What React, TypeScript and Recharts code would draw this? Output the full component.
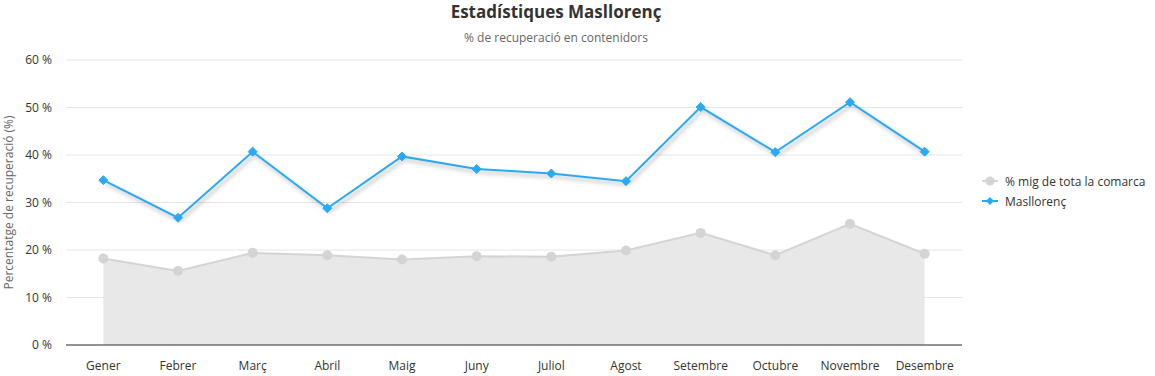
import React from 'react';
import { ComposedChart, Area, Line, XAxis, YAxis, CartesianGrid, Legend } from 'recharts';

const months = ['Gener', 'Febrer', 'Març', 'Abril', 'Maig', 'Juny', 'Juliol', 'Agost', 'Setembre', 'Octubre', 'Novembre', 'Desembre'];
const comarcaAvg = [18.2, 15.6, 19.4, 18.9, 18.0, 18.7, 18.6, 19.9, 23.6, 18.9, 25.5, 19.2];
const masllorenc = [34.7, 26.8, 40.7, 28.8, 39.7, 37.05, 36.1, 34.5, 50.1, 40.6, 51.1, 40.7];
const yTicks = [0, 10, 20, 30, 40, 50, 60];

const data = months.map((m, i) => ({ month: m, comarca: comarcaAvg[i], mas: masllorenc[i] }));

const FONT = "'Open Sans', 'Noto Sans', sans-serif";
const BLUE = '#2aaaf4';
const GRAY_LINE = '#d4d4d4';
const GRAY_FILL = '#e8e8e8';

const Diamond = (props: any) => {
  const { cx, cy } = props;
  if (cx == null || cy == null) return null;
  return <path d={`M${cx} ${cy - 4.5}L${cx + 4.5} ${cy}L${cx} ${cy + 4.5}L${cx - 4.5} ${cy}Z`} fill={BLUE} stroke={BLUE} strokeWidth={1} />;
};

const LegendContent = () => (
  <div style={{ fontFamily: FONT, fontSize: 12, color: '#333' }}>
    <div style={{ display: 'flex', alignItems: 'center', height: 20 }}>
      <svg width={20} height={12} style={{ marginRight: 5 }}>
        <line x1={2} y1={6} x2={18} y2={6} stroke={GRAY_LINE} strokeWidth={2} />
        <circle cx={10} cy={6} r={4.5} fill={GRAY_LINE} />
      </svg>
      <span>% mig de tota la comarca</span>
    </div>
    <div style={{ display: 'flex', alignItems: 'center', height: 20 }}>
      <svg width={20} height={12} style={{ marginRight: 5 }}>
        <line x1={2} y1={6} x2={18} y2={6} stroke={BLUE} strokeWidth={2} />
        <path d="M10 2L14 6L10 10L6 6Z" fill={BLUE} />
      </svg>
      <span>Masllorenç</span>
    </div>
  </div>
);

export default function App() {
  return (
    <div style={{ position: 'absolute', left: 0, top: 0, width: 1155, height: 376, background: '#fff', fontFamily: FONT }}>
      <style>{`.blue-line .recharts-line-curve { filter: drop-shadow(2px 3px 2px rgba(0,0,0,0.3)); }`}</style>
      <div style={{ position: 'absolute', left: 0, width: 1112, top: 0, textAlign: 'center', fontSize: 17, fontWeight: 700, color: '#333', lineHeight: '24px' }}>
        Estadístiques Masllorenç
      </div>
      <div style={{ position: 'absolute', left: 0, width: 1112, top: 29, textAlign: 'center', fontSize: 12, color: '#666', lineHeight: '18px' }}>
        % de recuperació en contenidors
      </div>
      <ComposedChart width={1155} height={376} data={data} margin={{ top: 60, right: 193, bottom: 0, left: 0 }}>
        <CartesianGrid vertical={false} stroke="#e6e6e6" />
        <XAxis
          dataKey="month"
          scale="band"
          height={31}
          tickLine={false}
          tickSize={0}
          tickMargin={16}
          axisLine={{ stroke: '#333', strokeWidth: 1 }}
          tick={{ fill: '#333', fontSize: 12, fontFamily: FONT }}
          interval={0}
        />
        <YAxis
          width={66}
          domain={[0, 60]}
          ticks={yTicks}
          tickFormatter={(v: number) => `${v} %`}
          axisLine={false}
          tickLine={false}
          tickSize={0}
          tickMargin={14}
          tick={{ fill: '#333', fontSize: 12, fontFamily: FONT }}
          label={{ value: 'Percentatge de recuperació (%)', angle: -90, position: 'insideLeft', offset: 9, style: { textAnchor: 'middle', fill: '#666', fontSize: 12, fontFamily: FONT } }}
        />
        <Legend
          layout="horizontal"
          verticalAlign="middle"
          align="center"
          content={<LegendContent />}
          wrapperStyle={{ left: 980, top: 171, width: 175 }}
        />
        <Area
          type="linear"
          dataKey="comarca"
          stroke={GRAY_LINE}
          strokeWidth={2}
          fill={GRAY_FILL}
          fillOpacity={1}
          dot={{ r: 5, fill: GRAY_LINE, stroke: GRAY_LINE, strokeWidth: 0 }}
          activeDot={false}
          isAnimationActive={false}
        />
        <Line
          className="blue-line"
          type="linear"
          dataKey="mas"
          stroke={BLUE}
          strokeWidth={2}
          dot={<Diamond />}
          activeDot={false}
          isAnimationActive={false}
        />
      </ComposedChart>
    </div>
  );
}
